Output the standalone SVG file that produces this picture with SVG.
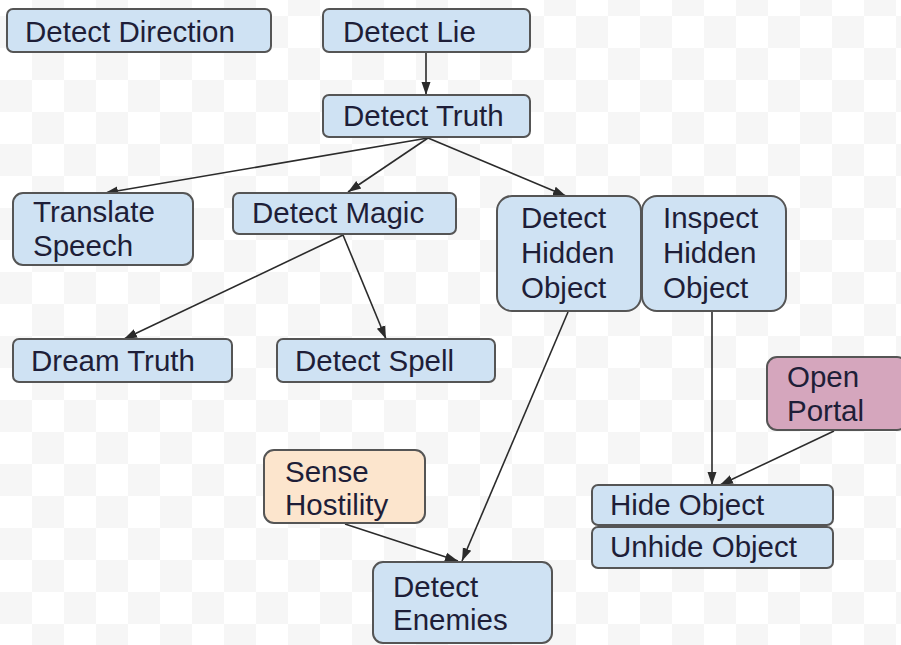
<svg xmlns="http://www.w3.org/2000/svg" width="901" height="645" viewBox="0 0 901 645">
<defs>
<pattern id="checker" patternUnits="userSpaceOnUse" x="0" y="16" width="64" height="64">
<rect x="0" y="0" width="64" height="64" fill="#ffffff"/>
<rect x="0" y="0" width="32" height="32" fill="#f6f6f6"/>
<rect x="32" y="32" width="32" height="32" fill="#f6f6f6"/>
</pattern>
<marker id="arrow" markerUnits="userSpaceOnUse" markerWidth="14" markerHeight="11" refX="13" refY="5.5" orient="auto">
<path d="M0,1 L13,5.5 L0,10 z" fill="#2b2b2b"/>
</marker>
</defs>
<style>
.node rect { fill: #cfe2f3; stroke: #555555; stroke-width: 2; }
.node.peach rect { fill: #fce5cd; }
.node.pink rect { fill: #d5a6bd; }
.node text { font-family: "Liberation Sans", Arial, sans-serif; font-size: 29.5px; fill: #1e1e38; }
.edge { stroke: #2b2b2b; stroke-width: 1.6; fill: none; marker-end: url(#arrow); }
</style>
<rect x="0" y="0" width="901" height="645" fill="url(#checker)"/>

<g id="connectors">
<line class="edge" x1="426" y1="53" x2="426" y2="95"/>
<line class="edge" x1="428" y1="138" x2="105" y2="193"/>
<line class="edge" x1="428" y1="138" x2="348" y2="192"/>
<line class="edge" x1="428" y1="138" x2="566" y2="196"/>
<line class="edge" x1="343" y1="235" x2="124" y2="339"/>
<line class="edge" x1="343" y1="235" x2="386" y2="339"/>
<line class="edge" x1="568" y1="312" x2="462" y2="561"/>
<line class="edge" x1="712" y1="312" x2="712" y2="485"/>
<line class="edge" x1="834" y1="431" x2="720" y2="485"/>
<line class="edge" x1="345" y1="524" x2="458" y2="561"/>
</g>

<g id="detect-direction" class="node">
<rect x="7" y="9" width="264" height="43" rx="6"/>
<text x="25" y="42">Detect Direction</text>
</g>
<g id="detect-lie" class="node">
<rect x="323" y="9" width="207" height="43" rx="6"/>
<text x="343" y="42">Detect Lie</text>
</g>
<g id="detect-truth" class="node">
<rect x="323" y="95" width="207" height="42" rx="6"/>
<text x="343" y="126">Detect Truth</text>
</g>
<g id="translate-speech" class="node">
<rect x="13" y="193" width="180" height="72" rx="10"/>
<text x="33" y="222">Translate</text>
<text x="33" y="256">Speech</text>
</g>
<g id="detect-magic" class="node">
<rect x="233" y="193" width="223" height="41" rx="6"/>
<text x="252" y="223">Detect Magic</text>
</g>
<g id="detect-hidden-object" class="node">
<rect x="497" y="196" width="144" height="115" rx="15"/>
<text x="521" y="228">Detect</text>
<text x="521" y="263">Hidden</text>
<text x="521" y="298">Object</text>
</g>
<g id="inspect-hidden-object" class="node">
<rect x="642" y="196" width="144" height="115" rx="15"/>
<text x="663" y="228">Inspect</text>
<text x="663" y="263">Hidden</text>
<text x="663" y="298">Object</text>
</g>
<g id="dream-truth" class="node">
<rect x="13" y="339" width="219" height="43" rx="6"/>
<text x="31" y="371">Dream Truth</text>
</g>
<g id="detect-spell" class="node">
<rect x="277" y="339" width="218" height="43" rx="6"/>
<text x="295" y="371">Detect Spell</text>
</g>
<g id="open-portal" class="node pink">
<rect x="767" y="357" width="140" height="73" rx="10"/>
<text x="787" y="387">Open</text>
<text x="787" y="421">Portal</text>
</g>
<g id="sense-hostility" class="node peach">
<rect x="264" y="450" width="161" height="73" rx="10"/>
<text x="285" y="482">Sense</text>
<text x="285" y="515">Hostility</text>
</g>
<g id="hide-object" class="node">
<rect x="592" y="485" width="241" height="40" rx="6"/>
<text x="610" y="515">Hide Object</text>
</g>
<g id="unhide-object" class="node">
<rect x="592" y="527" width="241" height="41" rx="6"/>
<text x="610" y="557">Unhide Object</text>
</g>
<g id="detect-enemies" class="node">
<rect x="373" y="562" width="179" height="81" rx="10"/>
<text x="393" y="597">Detect</text>
<text x="393" y="630">Enemies</text>
</g>
</svg>
